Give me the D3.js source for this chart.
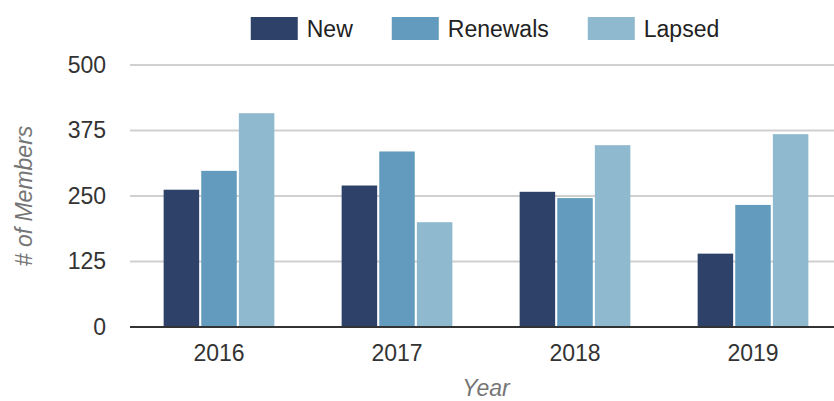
<!DOCTYPE html>
<html><head><meta charset="utf-8">
<script src="https://cdn.jsdelivr.net/npm/d3@7/dist/d3.min.js"></script>
<style>
html,body{margin:0;padding:0;background:#fff;}
svg{display:block;font-family:"Liberation Sans",Arial,Helvetica,sans-serif;}
</style></head>
<body><svg id="chart" width="834" height="401"></svg>
<script>
const years = ["2016","2017","2018","2019"];
const seriesNames = ["New","Renewals","Lapsed"];
const newValues = [262, 270, 258, 140];
const renewalValues = [298, 335, 246, 233];
const lapsedValues = [408, 200, 347, 368];
const yTicks = [0, 125, 250, 375, 500];
const colors = ["#2e4168", "#629bbd", "#8fb9cf"];

(function () {
const seriesValues = [newValues, renewalValues, lapsedValues];
const svg = d3.select("#chart");
const W = 834;
const pLeft = 130, pRight = 842, pTop = 65, pBottom = 327;

const x0 = d3.scaleBand().domain(years).range([pLeft, pRight]).paddingInner(0.378).paddingOuter(0.189);
const x1 = d3.scaleBand().domain(seriesNames).range([0, x0.bandwidth()]).paddingInner(0.056);
const y = d3.scaleLinear().domain([0, 500]).range([pBottom, pTop]);
const color = d3.scaleOrdinal().domain(seriesNames).range(colors);

// gridlines
svg.append("g").selectAll("line").data(yTicks.filter(d => d > 0)).join("line")
  .attr("x1", pLeft).attr("x2", W).attr("y1", d => y(d)).attr("y2", d => y(d))
  .attr("stroke", "#d0d0d0").attr("stroke-width", 2);

// y axis labels
const yAxis = d3.axisLeft(y).tickValues(yTicks).tickSize(0).tickPadding(24);
const gy = svg.append("g").attr("transform", `translate(${pLeft},0)`).call(yAxis);
gy.select(".domain").remove();
gy.selectAll("text").attr("font-size", 23).attr("fill", "#333").attr("font-family", "Liberation Sans, Arial, sans-serif");

// bars
const rows = years.map((yr, i) => ({year: yr, vals: seriesNames.map((s, j) => ({key: s, value: seriesValues[j][i]}))}));
svg.append("g").selectAll("g").data(rows).join("g")
  .attr("transform", d => `translate(${x0(d.year)},0)`)
  .selectAll("rect").data(d => d.vals).join("rect")
  .attr("x", d => x1(d.key)).attr("width", x1.bandwidth())
  .attr("y", d => y(d.value)).attr("height", d => y(0) - y(d.value))
  .attr("fill", d => color(d.key));

// x axis
const xAxis = d3.axisBottom(x0).tickSize(0).tickPadding(18);
const gx = svg.append("g").attr("transform", `translate(0,${pBottom})`).call(xAxis);
gx.select(".domain").remove();
gx.selectAll("text").attr("font-size", 23).attr("fill", "#333").attr("font-family", "Liberation Sans, Arial, sans-serif");
svg.append("line").attr("x1", pLeft).attr("x2", W).attr("y1", y(0)).attr("y2", y(0))
  .attr("stroke", "#333").attr("stroke-width", 2);

// axis titles
svg.append("text").attr("x", (pLeft + pRight) / 2).attr("y", 396)
  .attr("text-anchor", "middle").attr("font-size", 23).attr("font-style", "italic")
  .attr("fill", "#757575").text("Year");
svg.append("text").attr("transform", `translate(32,${(pTop + pBottom) / 2}) rotate(-90)`)
  .attr("text-anchor", "middle").attr("font-size", 23).attr("font-style", "italic")
  .attr("fill", "#757575").text("# of Members");

// legend
const legend = svg.append("g");
let cx = 0;
seriesNames.forEach((s, i) => {
  const g = legend.append("g").attr("transform", `translate(${cx},0)`);
  g.append("rect").attr("x", 0).attr("y", 17).attr("width", 47).attr("height", 23).attr("fill", colors[i]);
  const t = g.append("text").attr("x", 56).attr("y", 37).attr("font-size", 23).attr("fill", "#222").text(s);
  const w = t.node().getComputedTextLength();
  cx += 56 + w + (i < seriesNames.length - 1 ? 39 : 0);
});
legend.attr("transform", `translate(${485 - cx / 2},0)`);
})();
</script></body></html>
